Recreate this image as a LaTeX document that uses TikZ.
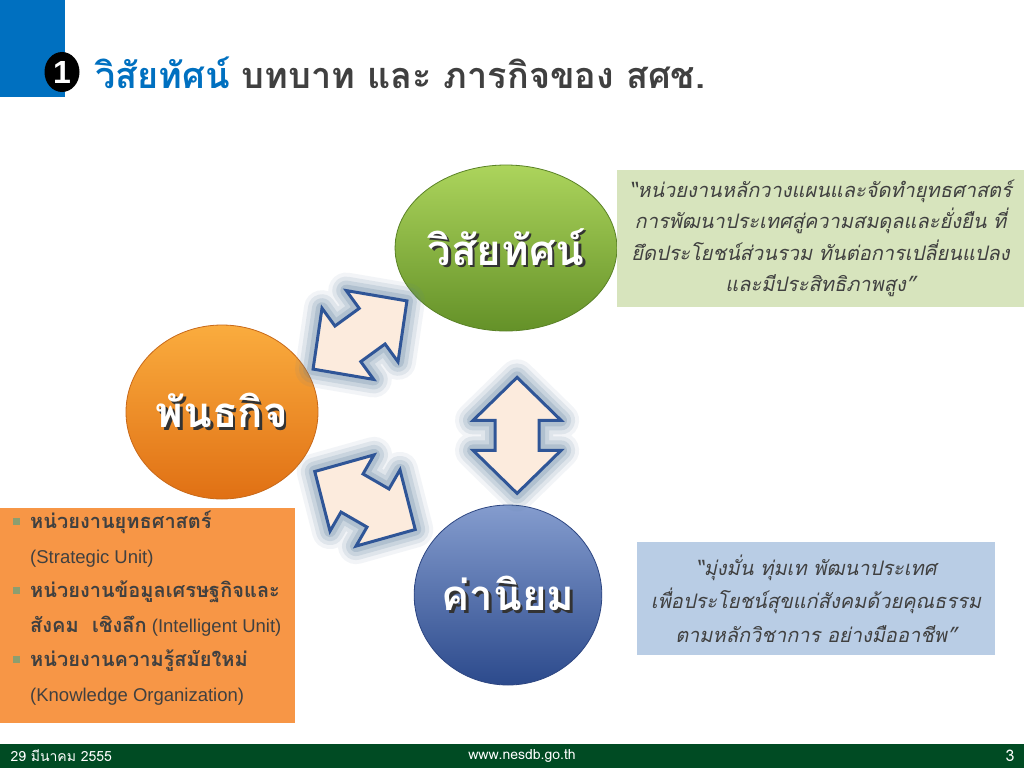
\documentclass[tikz,border=0pt]{standalone}
\usepackage{fontspec}
\setmainfont{Liberation Sans}
\newfontfamily\thai[Script=Thai]{Loma}
\usetikzlibrary{calc,shapes.geometric}
\definecolor{titleblue}{RGB}{0,112,192}
\definecolor{titlegray}{RGB}{64,64,64}
\definecolor{visiongreen}{RGB}{215,228,189}
\definecolor{valuesblue}{RGB}{185,205,229}
\definecolor{missionorange}{RGB}{247,150,70}
\definecolor{bulletgreen}{RGB}{140,158,112}
\definecolor{footgreen}{RGB}{0,75,35}
\definecolor{arrowfill}{RGB}{252,235,221}
\definecolor{arrowline}{RGB}{47,85,151}
\definecolor{arrowglow}{RGB}{90,125,155}
\newcommand{\embossed}[1]{\leavevmode\rlap{\kern2.5pt\raisebox{-2.5pt}{\color{black!80}#1}}#1}
\newcommand{\bul}{\makebox[17pt][l]{\textcolor{bulletgreen}{\rule[4pt]{7pt}{7pt}}}}
\newcommand{\arrowpath}{(-58,0) -- (-15,44) -- (-15,22) -- (15,22) -- (15,44) -- (58,0) -- (15,-44) -- (15,-22) -- (-15,-22) -- (-15,-44) -- cycle}
\newcommand{\twowayarrow}[2]{%
  \begin{scope}[shift={(#1)}, rotate=#2]
    \foreach \w/\o in {36/0.08, 28/0.12, 20/0.16, 12/0.22}
      \draw[arrowglow, line width=\w pt, opacity=\o, line join=round] \arrowpath;
    \draw[fill=arrowfill, draw=arrowline, line width=3pt, line join=miter] \arrowpath;
  \end{scope}}
\tikzset{
  bubble/.style={ellipse, inner sep=0pt, text=white, line width=0.8pt, font=\thai\bfseries\fontsize{42}{44}\selectfont},
  quote/.style={align=center, inner sep=0pt, text=titlegray, font=\thai\itshape\fontsize{20}{31.5}\selectfont},
}
\begin{document}
\begin{tikzpicture}[x=1pt, y=-1pt]
  \useasboundingbox (0,0) rectangle (1024,768);
  \fill[white] (0,0) rectangle (1024,768);

  % title
  \fill[titleblue] (0,0) rectangle (65,97);
  \node[ellipse, fill=black, minimum width=35pt, minimum height=40pt, inner sep=0pt,
        text=white, font=\bfseries\fontsize{32}{32}\selectfont] (badge) at (62,72) {1};
  \node[anchor=base west, inner sep=0pt, text=titlegray, font=\thai\bfseries\fontsize{36}{38}\selectfont]
    (title) at (95,88) {\textcolor{titleblue}{วิสัยทัศน์} บทบาท และ ภารกิจของ สศช.};

  % three bubbles
  \node[bubble, minimum width=187pt, minimum height=166pt, top color={rgb,255:red,172;green,212;blue,92},
        bottom color={rgb,255:red,100;green,145;blue,40}, draw={rgb,255:red,90;green,130;blue,38}]
        (vision) at (506,248) {\embossed{วิสัยทัศน์}};
  \node[bubble, minimum width=192pt, minimum height=174pt, top color={rgb,255:red,250;green,172;blue,62},
        bottom color={rgb,255:red,224;green,112;blue,20}, draw={rgb,255:red,200;green,105;blue,25}]
        (mission) at (222,412) {\embossed{พันธกิจ}};
  \node[bubble, minimum width=184pt, minimum height=180pt, top color={rgb,255:red,132;green,156;blue,206},
        bottom color={rgb,255:red,44;green,74;blue,140}, draw={rgb,255:red,45;green,70;blue,130}]
        (values) at (508,595) {\embossed{ค่านิยม}};

  % two-way arrows between bubbles
  \coordinate (mv) at ($(mission)!0.5!(vision)+(-4,5)$);
  \coordinate (ml) at ($(mission)!0.5!(values)+(0,-3)$);
  \coordinate (vl) at ($(vision)!0.54!(values)+(10,0)$);
  \twowayarrow{mv}{36}
  \twowayarrow{ml}{-30}
  \twowayarrow{vl}{90}

  % text boxes
  \node[fill=visiongreen, minimum width=407pt, minimum height=137pt, inner sep=0pt] (visionbox) at (820.5,238.5) {};
  \node[quote] at (visionbox) {“หน่วยงานหลักวางแผนและจัดทำยุทธศาสตร์\\
    การพัฒนาประเทศสู่ความสมดุลและยั่งยืน ที่\\
    ยึดประโยชน์ส่วนรวม ทันต่อการเปลี่ยนแปลง\\
    และมีประสิทธิภาพสูง”};
  \node[fill=valuesblue, minimum width=358pt, minimum height=113pt, inner sep=0pt] (valuesbox) at (816,598.5) {};
  \node[quote, font=\thai\itshape\fontsize{20}{33.5}\selectfont] at (valuesbox) {“มุ่งมั่น ทุ่มเท พัฒนาประเทศ\\
    เพื่อประโยชน์สุขแก่สังคมด้วยคุณธรรม\\
    ตามหลักวิชาการ อย่างมืออาชีพ”};
  \node[fill=missionorange, minimum width=295pt, minimum height=215pt, inner sep=0pt] (missionbox) at (147.5,615.5) {};
  \node[anchor=north west, align=left, inner sep=0pt, text=titlegray, font=\fontsize{18.5}{34.5}\selectfont]
    at (13,511) {\bul{\thai\bfseries\fontsize{20}{34.5}\selectfont หน่วยงานยุทธศาสตร์}\\
    \hspace*{17pt}(Strategic Unit)\\
    \bul{\thai\bfseries\fontsize{20}{34.5}\selectfont หน่วยงานข้อมูลเศรษฐกิจและ}\\
    \hspace*{17pt}{\thai\bfseries\fontsize{20}{34.5}\selectfont สังคม\ \ เชิงลึก} (Intelligent Unit)\\
    \bul{\thai\bfseries\fontsize{20}{34.5}\selectfont หน่วยงานความรู้สมัยใหม่}\\
    \hspace*{17pt}(Knowledge Organization)};

  % footer
  \fill[footgreen] (0,744) rectangle (1024,768);
  \node[anchor=west, text=white, font=\thai\fontsize{14}{15}\selectfont] (date) at (7,755.5) {29 มีนาคม 2555};
  \node[text=white, font=\thai\fontsize{14}{15}\selectfont] (web) at (522,755.5) {www.nesdb.go.th};
  \node[anchor=east, text=white, font=\thai\fontsize{16}{17}\selectfont] (page) at (1018,755.5) {3};
\end{tikzpicture}
\end{document}
